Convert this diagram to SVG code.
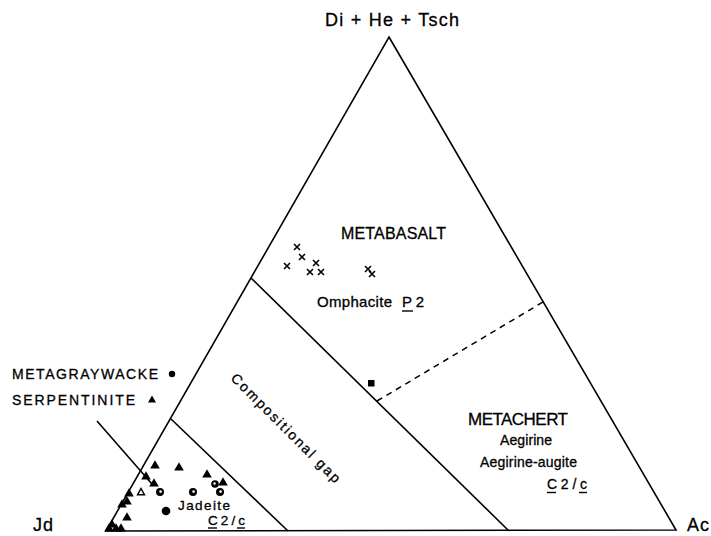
<svg xmlns="http://www.w3.org/2000/svg" xmlns:xlink="http://www.w3.org/1999/xlink" width="711" height="536" viewBox="0 0 711 536">
<style>
text{font-family:"Liberation Sans",Arial,sans-serif;fill:#000;stroke:#000;stroke-width:0.3}
.ln{stroke:#000;stroke-width:1.6;fill:none}
.dash{stroke:#000;stroke-width:1.5;fill:none;stroke-dasharray:6 5}
.x{stroke:#000;stroke-width:1.6;fill:none}
.ul{stroke:#000;stroke-width:1.4}
</style>
<defs>
<path id="tri" d="M0,-4.8 L4.8,3.6 L-4.8,3.6Z" fill="#000"/>
<path id="otri" d="M0,-3.5 L3.5,2.8 L-3.5,2.8Z" fill="#fff" stroke="#000" stroke-width="1.4"/>
<path id="cross" d="M-3,-3 L3,3 M3,-3 L-3,3" class="x"/>
<g id="ring"><circle r="4" fill="#000"/><circle r="1.3" cx="0.6" cy="-0.4" fill="#fff"/></g>
</defs>
<rect width="711" height="536" fill="#fff"/>

<g id="connectors">
<path class="ln" d="M389,37 L676,530 L106,531 Z"/>
<line class="ln" x1="251" y1="278" x2="509" y2="531"/>
<line class="ln" x1="171" y1="419" x2="288" y2="531"/>
<line class="dash" x1="377" y1="401" x2="543" y2="302"/>
<line class="ln" x1="97" y1="421" x2="152" y2="484"/>
</g>

<g id="apex-labels">
<text x="325" y="26" font-size="18" textLength="134">Di + He + Tsch</text>
<text x="33" y="531" font-size="18" textLength="20">Jd</text>
<text x="687" y="531" font-size="18" textLength="22">Ac</text>
</g>

<g id="metabasalt">
<text x="341" y="239" font-size="16" textLength="105">METABASALT</text>
<text x="317" y="307" font-size="15" textLength="75">Omphacite</text>
<text x="402" y="307" font-size="15" textLength="22">P2</text>
<line class="ul" x1="402" y1="311" x2="413" y2="311"/>
<use xlink:href="#cross" x="297" y="247"/>
<use xlink:href="#cross" x="302" y="257"/>
<use xlink:href="#cross" x="287" y="266"/>
<use xlink:href="#cross" x="316" y="263"/>
<use xlink:href="#cross" x="310" y="272"/>
<use xlink:href="#cross" x="321" y="272"/>
<use xlink:href="#cross" x="368" y="269"/>
<use xlink:href="#cross" x="372" y="274"/>
<rect x="368" y="380" width="6.5" height="6.5" fill="#000"/>
</g>

<g id="gap">
<text transform="translate(230,379) rotate(45)" font-size="14" textLength="148">Compositional gap</text>
</g>

<g id="metachert">
<text x="468" y="425" font-size="17" textLength="100">METACHERT</text>
<text x="500" y="445" font-size="14" textLength="52">Aegirine</text>
<text x="480" y="467" font-size="14" textLength="97">Aegirine-augite</text>
<text x="547" y="489" font-size="14" textLength="40">C2/c</text>
<line class="ul" x1="547" y1="492.5" x2="556" y2="492.5"/>
<line class="ul" x1="579" y1="492.5" x2="587" y2="492.5"/>
</g>

<g id="jadeite">
<text x="178" y="510" font-size="13.5" textLength="52">Jadeite</text>
<text x="208" y="525" font-size="13.5" textLength="37">C2/c</text>
<line class="ul" x1="208" y1="528" x2="217" y2="528"/>
<line class="ul" x1="237" y1="528" x2="245" y2="528"/>
<use xlink:href="#tri" x="155" y="465"/>
<use xlink:href="#tri" x="179" y="467"/>
<use xlink:href="#tri" x="207" y="474"/>
<use xlink:href="#tri" x="146" y="476"/>
<use xlink:href="#tri" x="154" y="483"/>
<use xlink:href="#tri" x="223" y="482"/>
<circle cx="215" cy="484" r="3.8" fill="#000"/>
<circle cx="214.5" cy="483.5" r="1.2" fill="#fff"/>
<use xlink:href="#otri" x="141" y="492"/>
<use xlink:href="#ring" x="160" y="492"/>
<use xlink:href="#ring" x="193" y="492"/>
<use xlink:href="#ring" x="220" y="492"/>
<circle cx="166" cy="511" r="4.3" fill="#000"/>
<use xlink:href="#tri" x="129" y="493"/>
<use xlink:href="#tri" x="127" y="501"/>
<use xlink:href="#tri" x="122" y="504"/>
<use xlink:href="#tri" x="127" y="517"/>
<use xlink:href="#tri" x="112" y="524"/>
<use xlink:href="#tri" x="109" y="528"/>
<use xlink:href="#tri" x="116" y="528"/>
<use xlink:href="#tri" x="121" y="528"/>
</g>

<g id="legend">
<text x="12" y="379" font-size="14" textLength="146">METAGRAYWACKE</text>
<circle cx="172" cy="374" r="3.2" fill="#000"/>
<text x="12" y="405" font-size="14" textLength="123">SERPENTINITE</text>
<path d="M152,395.5 L156,402.5 L148,402.5Z" fill="#000"/>
</g>
</svg>
